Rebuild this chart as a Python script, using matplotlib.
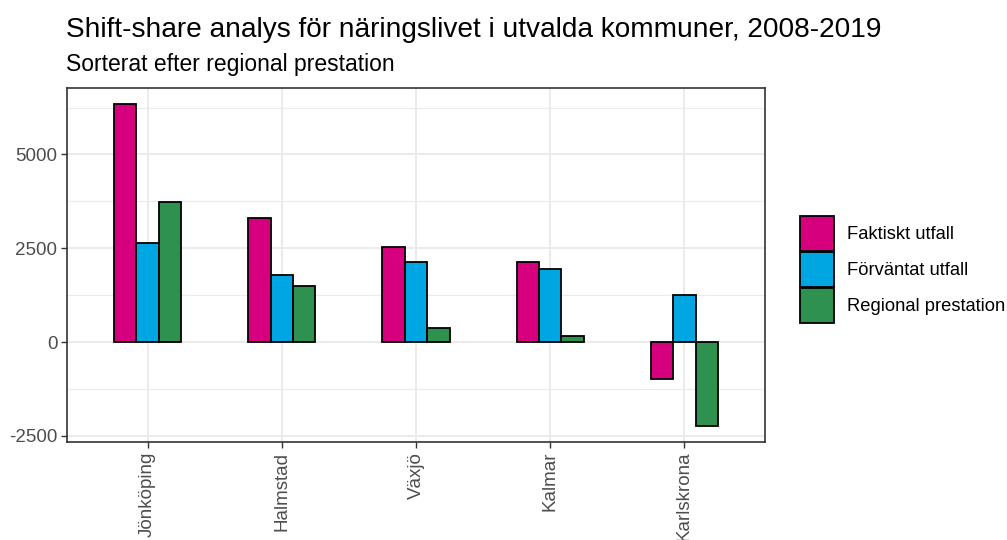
import matplotlib
matplotlib.use("Agg")
import matplotlib.pyplot as plt
import numpy as np

# Data
kommuner = ["Jönköping", "Halmstad", "Växjö", "Kalmar", "Karlskrona"]
faktiskt = [6350, 3320, 2525, 2140, -975]
forvantat = [2630, 1790, 2135, 1960, 1250]
regional = [3720, 1505, 390, 170, -2235]

serier = ["Faktiskt utfall", "Förväntat utfall", "Regional prestation"]
farger = ["#D6007F", "#00A6E1", "#2E914F"]

# Font setting
plt.rcParams["font.family"] = ["Liberation Sans", "DejaVu Sans"]

fig = plt.figure(figsize=(10.07, 5.4), dpi=100)
ax = fig.add_axes([67 / 1007, 1 - 442 / 540, 698 / 1007, 354 / 540])

# Dodged bars, total width 0.5
x = np.arange(1, len(kommuner) + 1)
w = 0.5 / 3
for i, vals in enumerate([faktiskt, forvantat, regional]):
    ax.bar(x + (i - 1) * w, vals, width=w, color=farger[i],
           edgecolor="black", linewidth=1.3, label=serier[i], zorder=3)

# Axes range
ax.set_xlim(0.4, 5.6)
ax.set_ylim(-2660, 6770)

# Ticks
ax.set_xticks(x)
ax.set_xticklabels(kommuner, rotation=90, fontsize=13.5, color="#4D4D4D")
ax.set_yticks([-2500, 0, 2500, 5000])
ax.set_yticklabels(["-2500", "0", "2500", "5000"], fontsize=13.5, color="#4D4D4D")
ax.set_yticks([-1250, 1250, 3750, 6250], minor=True)
ax.tick_params(axis="both", which="major", length=4, width=1, color="#333333", pad=3)
ax.tick_params(axis="y", which="minor", length=0)

# Grid
ax.grid(True, which="major", color="#EBEBEB", linewidth=1.4, zorder=0)
ax.grid(True, which="minor", axis="y", color="#EBEBEB", linewidth=0.8, zorder=0)
ax.set_axisbelow(True)
for s in ax.spines.values():
    s.set_color("#333333")
    s.set_linewidth(1.2)

# Titles
fig.text(66 / 1007, 1 - 37 / 540, "Shift-share analys för näringslivet i utvalda kommuner, 2008-2019",
         fontsize=20.2, ha="left", va="baseline", color="black")
fig.text(66 / 1007, 1 - 71 / 540, "Sorterat efter regional prestation",
         fontsize=16.5, ha="left", va="baseline", color="black")

# Legend
fig.legend(loc="upper left", bbox_to_anchor=(800 / 1007, 1 - 216 / 540),
           frameon=False, fontsize=13.2, handlelength=1.86, handleheight=2.56,
           labelspacing=0.05, handletextpad=0.68, borderpad=0, borderaxespad=0)

fig.savefig("out.png", dpi=100)
